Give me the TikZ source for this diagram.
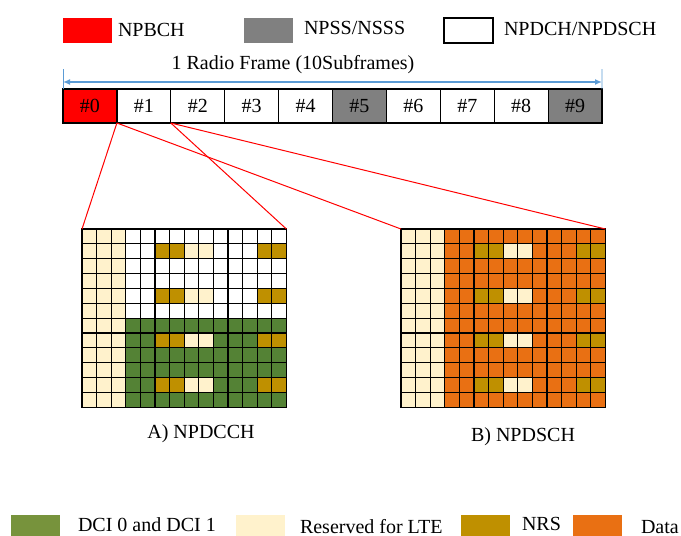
\documentclass[tikz,border=0pt]{standalone}
\usepackage{fontspec}
\setmainfont{Liberation Serif}
\usetikzlibrary{arrows.meta,positioning}
\definecolor{npbchred}{HTML}{FF0000}
\definecolor{npssgray}{HTML}{808080}
\definecolor{dcigreen}{HTML}{548235}
\definecolor{keygreen}{HTML}{77933C}
\definecolor{ltecream}{HTML}{FFF2CC}
\definecolor{nrsgold}{HTML}{BF9000}
\definecolor{dataorange}{HTML}{E97013}
\definecolor{frameblue}{HTML}{5B9BD5}

\begin{document}
\begin{tikzpicture}[
  x=1pt, y=-1pt,
  every node/.style={font=\fontsize{20}{24}\selectfont, inner sep=0pt, outer sep=0pt},
  sfbox/.style={draw, line width=1.2pt, minimum width=53.9pt, minimum height=34pt},
  topkey/.style={minimum width=49pt, minimum height=25pt, anchor=north west},
  botkey/.style={minimum width=49pt, minimum height=21pt, anchor=north west},
  keytext/.style={anchor=base west},
  rcell/.style={draw, line width=1.1pt},
  zoomline/.style={draw=red, line width=1pt},
  arr/.style={{Latex[length=7pt,width=6pt]}-{Latex[length=7pt,width=6pt]}, frameblue, line width=1.5pt}
]
  \useasboundingbox (0,0) rectangle (681,536);

  % top legend
  \node[topkey, fill=npbchred] (keyRed) at (63,18) {};
  \node[keytext] (txtRed) at (118,36) {NPBCH};
  \node[topkey, fill=npssgray] (keyGray) at (244,18) {};
  \node[keytext] (txtGray) at (304,34) {NPSS/NSSS};
  \node[topkey, draw, line width=2pt] (keyWhite) at (444,18) {};
  \node[keytext] (txtWhite) at (504,35) {NPDCH/NPDSCH};

  % radio frame
  \node[sfbox, fill=npbchred, anchor=north west] (sf0) at (63,89) {\#0};
  \node[sfbox, right=0pt of sf0] (sf1) {\#1};
  \node[sfbox, right=0pt of sf1] (sf2) {\#2};
  \node[sfbox, right=0pt of sf2] (sf3) {\#3};
  \node[sfbox, right=0pt of sf3] (sf4) {\#4};
  \node[sfbox, fill=npssgray, right=0pt of sf4] (sf5) {\#5};
  \node[sfbox, right=0pt of sf5] (sf6) {\#6};
  \node[sfbox, right=0pt of sf6] (sf7) {\#7};
  \node[sfbox, right=0pt of sf7] (sf8) {\#8};
  \node[sfbox, fill=npssgray, right=0pt of sf8] (sf9) {\#9};

  \coordinate (tickL) at (63,69);
  \coordinate (tickR) at (602,69);
  \coordinate (arL) at (63,82);
  \coordinate (arR) at (602,82);
  \draw[frameblue, line width=0.8pt] (tickL) -- (sf0.north west);
  \draw[frameblue, line width=0.8pt] (tickR) -- (sf9.north east);
  \draw[arr] (arL) -- (arR);
  \node (rflabel) at (293,65) {1 Radio Frame (10Subframes)};

  % resource grids
  \foreach \gx/\upc/\lowc in {82/white/dcigreen, 401/dataorange/dataorange}
    \foreach \r in {0,...,11}
      \foreach \c in {0,...,13} {
        \pgfmathtruncatemacro{\nrs}{mod(\r,3)==1 ? 1 : 0}
        \ifnum\r<6 \edef\fc{\upc}\else\edef\fc{\lowc}\fi
        \ifnum\nrs=1
          \ifnum\c=5 \def\fc{nrsgold}\fi
          \ifnum\c=6 \def\fc{nrsgold}\fi
          \ifnum\c=7 \def\fc{ltecream}\fi
          \ifnum\c=8 \def\fc{ltecream}\fi
          \ifnum\c=12 \def\fc{nrsgold}\fi
          \ifnum\c=13 \def\fc{nrsgold}\fi
        \fi
        \ifnum\c<3 \def\fc{ltecream}\fi
        \draw[rcell, fill=\fc] (\gx+\c*14.6, 229+\r*14.85) rectangle ++(14.6,14.85);
      }
  \coordinate (gA-nw) at (82,229);
  \coordinate (gA-ne) at (286.4,229);
  \coordinate (gB-nw) at (401,229);
  \coordinate (gB-ne) at (605.4,229);

  \draw[zoomline] (sf1.south west) -- (gA-nw);
  \draw[zoomline] (sf1.south west) -- (gB-nw);
  \draw[zoomline] (sf2.south west) -- (gA-ne);
  \draw[zoomline] (sf2.south west) -- (gB-ne);

  \node (capA) at (201,434) {A) NPDCCH};
  \node (capB) at (523,437) {B) NPDSCH};

  % bottom legend
  \node[botkey, fill=keygreen] (keyDci) at (11,515) {};
  \node[keytext] (txtDci) at (78,531) {DCI 0 and DCI 1};
  \node[botkey, fill=ltecream] (keyLte) at (236,515) {};
  \node[keytext] (txtLte) at (300,533) {Reserved for LTE};
  \node[botkey, fill=nrsgold] (keyNrs) at (461,515) {};
  \node[keytext] (txtNrs) at (522,530) {NRS};
  \node[botkey, fill=dataorange] (keyData) at (573,515) {};
  \node[keytext] (txtData) at (641,533) {Data};
\end{tikzpicture}
\end{document}
